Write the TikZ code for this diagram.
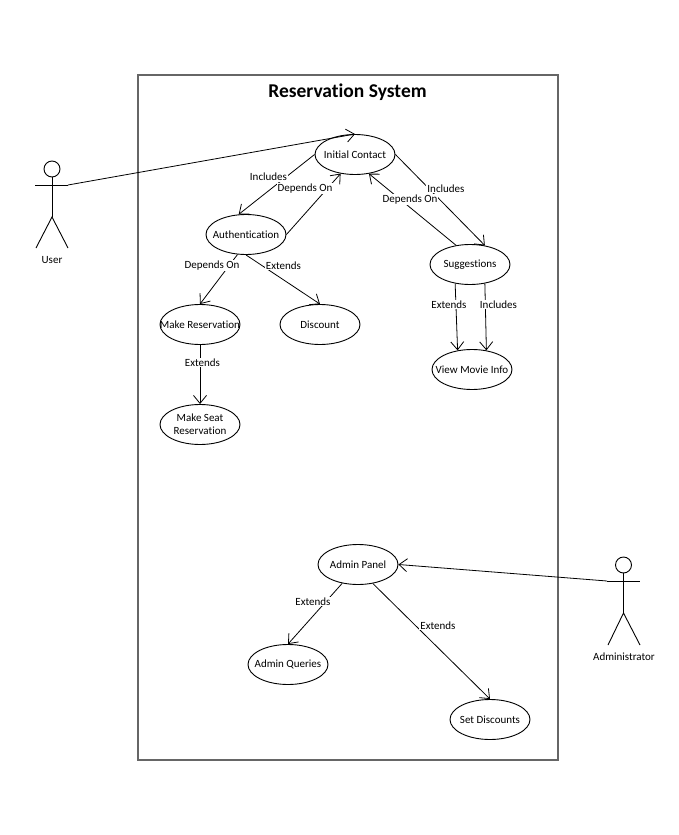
\documentclass[tikz,border=0pt]{standalone}
\usepackage{fontspec}
\setmainfont{Carlito}[Ligatures=NoCommon]
\usetikzlibrary{shapes.geometric,arrows.meta}
\newcommand{\ctext}[1]{\makebox[0pt]{#1}}
\tikzset{
  usecase/.style={ellipse,draw=black,line width=0.9pt,minimum width=80pt,minimum height=40pt,inner sep=0pt,align=center,font=\fontsize{11}{13}\selectfont},
  conn/.style={draw=black,line width=0.8pt,-{Straight Barb[length=8pt,width=13pt,line width=0.8pt]}},
  lbl/.style={fill=white,inner sep=1pt,font=\fontsize{11}{13}\selectfont},
  actorline/.style={draw=black,line width=0.9pt},
  actorlabel/.style={inner sep=0pt,font=\fontsize{11}{13}\selectfont},
  frameline/.style={draw=black!60,line width=1.3pt}
}
\begin{document}
\begin{tikzpicture}[x=1pt,y=-1pt]
\useasboundingbox (0,0) rectangle (678,835);
\draw[frameline] (138,75) rectangle (558,760);
\node[font=\bfseries\fontsize{19.5}{23}\selectfont] (title) at (347.5,92) {Reservation System};
% use cases
\node[usecase] (ic) at (355,154.5) {\ctext{Initial Contact}};
\node[usecase] (auth) at (246,234.5) {\ctext{Authentication}};
\node[usecase] (sug) at (470,264.5) {\ctext{Suggestions}};
\node[usecase] (mr) at (200,324.5) {\ctext{Make Reservation}};
\node[usecase] (disc) at (320,324.5) {\ctext{Discount}};
\node[usecase] (ms) at (200,424.5) {\ctext{Make Seat}\\\ctext{Reservation}};
\node[usecase] (vm) at (472,369.5) {\ctext{View Movie Info}};
\node[usecase] (ap) at (358,564.5) {\ctext{Admin Panel}};
\node[usecase] (aq) at (288,664.5) {\ctext{Admin Queries}};
\node[usecase] (sd) at (490,719.5) {\ctext{Set Discounts}};
% actors
\node[circle,draw=black,line width=0.9pt,minimum size=16pt,inner sep=0pt] (userhead) at (52,169) {};
\coordinate (userl) at (35,185);
\coordinate (userr) at (68,185);
\coordinate (userhip) at (52,217);
\coordinate (userfl) at (36,248);
\coordinate (userfr) at (68,248);
\draw[actorline] (userhead.south) -- (userhip);
\draw[actorline] (userl) -- (userr);
\draw[actorline] (userfl) -- (userhip) -- (userfr);
\node[actorlabel] (userlabel) at (52,260.5) {User};
\node[circle,draw=black,line width=0.9pt,minimum size=16pt,inner sep=0pt] (adminhead) at (623.5,565) {};
\coordinate (adminl) at (607,581);
\coordinate (adminr) at (640,581);
\coordinate (adminhip) at (623.5,613);
\coordinate (adminfl) at (608,645);
\coordinate (adminfr) at (640,645);
\draw[actorline] (adminhead.south) -- (adminhip);
\draw[actorline] (adminl) -- (adminr);
\draw[actorline] (adminfl) -- (adminhip) -- (adminfr);
\node[actorlabel] (adminlabel) at (624,657) {Administrator};
% connectors
\draw[conn] (userr) -- (ic.north);
\draw[conn] (ic.west) -- (auth.110);
\draw[conn] (auth.east) -- (ic.233);
\draw[conn] (sug.126) -- (ic.-54);
\draw[conn] (ic.east) -- (sug.52);
\draw[conn] (sug.-128) -- (vm.127);
\draw[conn] (sug.-52) -- (vm.53);
\draw[conn] (auth.-113) -- (mr.north);
\draw[conn] (auth.south) -- (disc.north);
\draw[conn] (mr.south) -- (ms.north);
\draw[conn] (ap.-130) -- (aq.north);
\draw[conn] (ap.-52) -- (sd.north);
\draw[conn] (adminl) -- (ap.east);
% labels
\node[lbl] (l1) at (268.5,177) {Includes};
\node[lbl] (l2) at (305,188.5) {Depends On};
\node[lbl] (l3) at (446,188.5) {Includes};
\node[lbl] (l4) at (410,199.5) {Depends On};
\node[lbl] (l5) at (212,265.5) {Depends On};
\node[lbl] (l6) at (283.5,265.5) {Extends};
\node[lbl] (l7) at (449,304.5) {Extends};
\node[lbl] (l8) at (498.5,304.5) {Includes};
\node[lbl] (l9) at (202.5,362.5) {Extends};
\node[lbl] (l10) at (313,601.5) {Extends};
\node[lbl] (l11) at (438,625.5) {Extends};
\end{tikzpicture}
\end{document}
